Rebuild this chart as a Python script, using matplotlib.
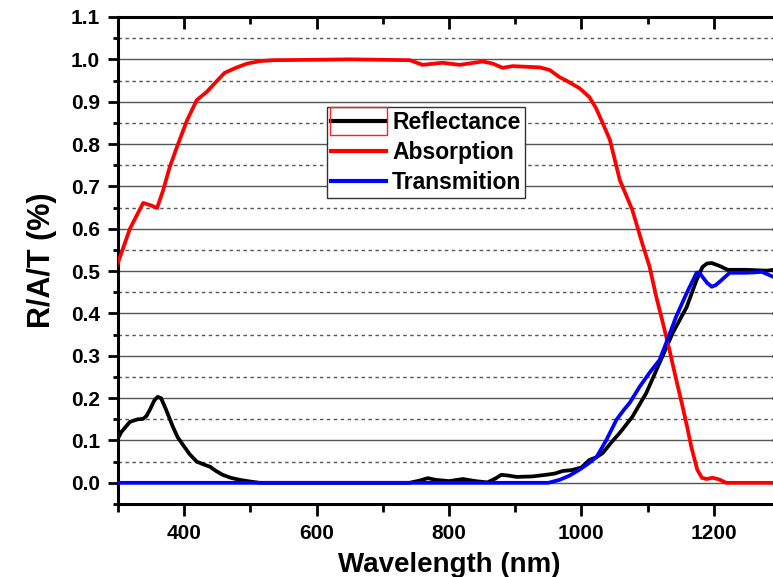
import matplotlib
matplotlib.use("Agg")
import matplotlib.pyplot as plt
from matplotlib.patches import Rectangle
from matplotlib.ticker import MultipleLocator, FormatStrFormatter

plt.rcParams['font.family'] = ['Liberation Sans', 'DejaVu Sans']
plt.rcParams['font.weight'] = 'bold'

# Absorption (red)
wl_abs = [300, 318, 338, 350, 359, 368, 378, 389, 404, 419, 434, 447, 461, 478,
          495, 515, 534, 600, 650, 695, 741, 760, 790, 816, 851, 866, 881, 896,
          937, 952, 967, 977, 997, 1012, 1022, 1032, 1043, 1058, 1077, 1092,
          1103, 1113, 1123, 1133, 1143, 1153, 1160, 1166, 1175, 1182, 1189,
          1198, 1208, 1219, 1300]
absorption = [0.52, 0.60, 0.661, 0.655, 0.649, 0.69, 0.745, 0.793, 0.855, 0.904,
              0.923, 0.945, 0.968, 0.98, 0.99, 0.996, 0.998, 0.999, 1.0, 0.999,
              0.998, 0.987, 0.992, 0.987, 0.995, 0.99, 0.980, 0.984, 0.981,
              0.975, 0.958, 0.950, 0.932, 0.911, 0.885, 0.85, 0.81, 0.715,
              0.644, 0.565, 0.51, 0.44, 0.378, 0.314, 0.245, 0.179, 0.13, 0.085,
              0.031, 0.012, 0.009, 0.012, 0.008, 0.0, 0.0]

# Reflectance (black)
wl_ref = [300, 305, 318, 330, 338, 343, 348, 355, 360, 365, 372, 383, 390, 398,
          408, 419, 430, 439, 448, 458, 470, 484, 500, 514, 740, 755, 768, 780,
          800, 821, 840, 858, 870, 879, 890, 902, 925, 947, 960, 972, 985, 1000,
          1012, 1022, 1032, 1045, 1058, 1077, 1098, 1118, 1138, 1159, 1174,
          1183, 1190, 1197, 1209, 1221, 1249, 1280, 1300]
reflectance = [0.105, 0.12, 0.144, 0.15, 0.151, 0.158, 0.172, 0.195, 0.203, 0.2,
               0.175, 0.132, 0.108, 0.09, 0.068, 0.05, 0.043, 0.038, 0.028,
               0.019, 0.012, 0.007, 0.003, 0.0, 0.0, 0.005, 0.011, 0.007, 0.004,
               0.009, 0.004, 0.001, 0.01, 0.019, 0.017, 0.014, 0.015, 0.019,
               0.022, 0.028, 0.03, 0.036, 0.054, 0.06, 0.07, 0.095, 0.118,
               0.156, 0.212, 0.283, 0.354, 0.415, 0.479, 0.51, 0.518, 0.519,
               0.512, 0.503, 0.503, 0.501, 0.505]

# Transmition (blue)
wl_tra = [300, 950, 967, 982, 997, 1010, 1023, 1038, 1053, 1063, 1073, 1088,
          1103, 1118, 1128, 1143, 1159, 1174, 1178, 1183, 1190, 1197, 1203,
          1209, 1224, 1249, 1273, 1289, 1300]
transmition = [0.0, 0.0, 0.007, 0.017, 0.031, 0.045, 0.061, 0.102, 0.149, 0.17,
               0.189, 0.227, 0.26, 0.29, 0.33, 0.392, 0.448, 0.496, 0.497,
               0.486, 0.472, 0.463, 0.467, 0.475, 0.496, 0.496, 0.498, 0.487,
               0.48]

fig = plt.figure(figsize=(7.73, 5.77), dpi=100)
ax = fig.add_axes([118 / 773, 73 / 577, 662 / 773, 487 / 577])

ax.plot(wl_ref, reflectance, color='black', lw=2.7, label='Reflectance', zorder=3)
ax.plot(wl_abs, absorption, color='red', lw=2.7, label='Absorption', zorder=3)
ax.plot(wl_tra, transmition, color='blue', lw=2.7, label='Transmition', zorder=3)

ax.set_xlim(300, 1300)
ax.set_ylim(-0.05, 1.1)
ax.xaxis.set_major_locator(MultipleLocator(200))
ax.xaxis.set_minor_locator(MultipleLocator(100))
ax.yaxis.set_major_locator(MultipleLocator(0.1))
ax.yaxis.set_minor_locator(MultipleLocator(0.05))
ax.yaxis.set_major_formatter(FormatStrFormatter('%.1f'))

ax.grid(which='major', axis='y', color='#555555', lw=1.0, ls='-', zorder=1)
ax.grid(which='minor', axis='y', color='#555555', lw=1.0, ls=(0, (2.5, 2.5)), zorder=1)
ax.set_axisbelow(True)

for s in ax.spines.values():
    s.set_linewidth(2.2)

ax.tick_params(axis='both', which='major', direction='out', width=2.0,
               labelsize=15, pad=6)
ax.tick_params(axis='x', which='major', length=8.6)
ax.tick_params(axis='x', which='minor', direction='out', length=5.5, width=2.0)
ax.tick_params(axis='y', which='major', length=7)
ax.tick_params(axis='y', which='minor', direction='out', length=3.6, width=2.0)

# mirrored inward ticks on top and right
top = ax.secondary_xaxis('top')
top.xaxis.set_major_locator(MultipleLocator(200))
top.xaxis.set_minor_locator(MultipleLocator(100))
top.tick_params(which='major', direction='in', length=8.6, width=2.0, labeltop=False)
top.tick_params(which='minor', direction='in', length=5, width=2.0)
right = ax.secondary_yaxis('right')
right.yaxis.set_major_locator(MultipleLocator(0.1))
right.yaxis.set_minor_locator(MultipleLocator(0.05))
right.tick_params(which='major', direction='in', length=6, width=2.0, labelright=False)
right.tick_params(which='minor', direction='in', length=4, width=2.0)

ax.set_xlabel('Wavelength (nm)', fontsize=20, fontweight='bold', labelpad=6)
ax.set_ylabel('R/A/T (%)', fontsize=22, fontweight='bold', labelpad=10)

leg = ax.legend(loc='upper left', bbox_to_anchor=(0.316, 0.815), borderaxespad=0,
                fontsize=16.5, frameon=True, fancybox=False, framealpha=1,
                edgecolor='#333333', handlelength=2.4, handletextpad=0.25,
                labelspacing=0.3, borderpad=0.18)
leg.get_frame().set_linewidth(1.0)
for t in leg.get_texts():
    t.set_fontweight('bold')
for h in leg.legend_handles:
    h.set_linewidth(3.0)

# red selection box around the first legend handle
fig.canvas.draw()
bb = leg.legend_handles[0].get_window_extent()
W, H = fig.canvas.get_width_height()
cy = (bb.y0 + bb.y1) / 2
fig.add_artist(Rectangle(((bb.x0 - 1) / W, (cy - 14) / H), (bb.width + 2) / W, 28 / H,
                         transform=fig.transFigure, fill=False, edgecolor='#ff2020',
                         lw=1.0, zorder=10))

fig.savefig('out.png', dpi=100)
